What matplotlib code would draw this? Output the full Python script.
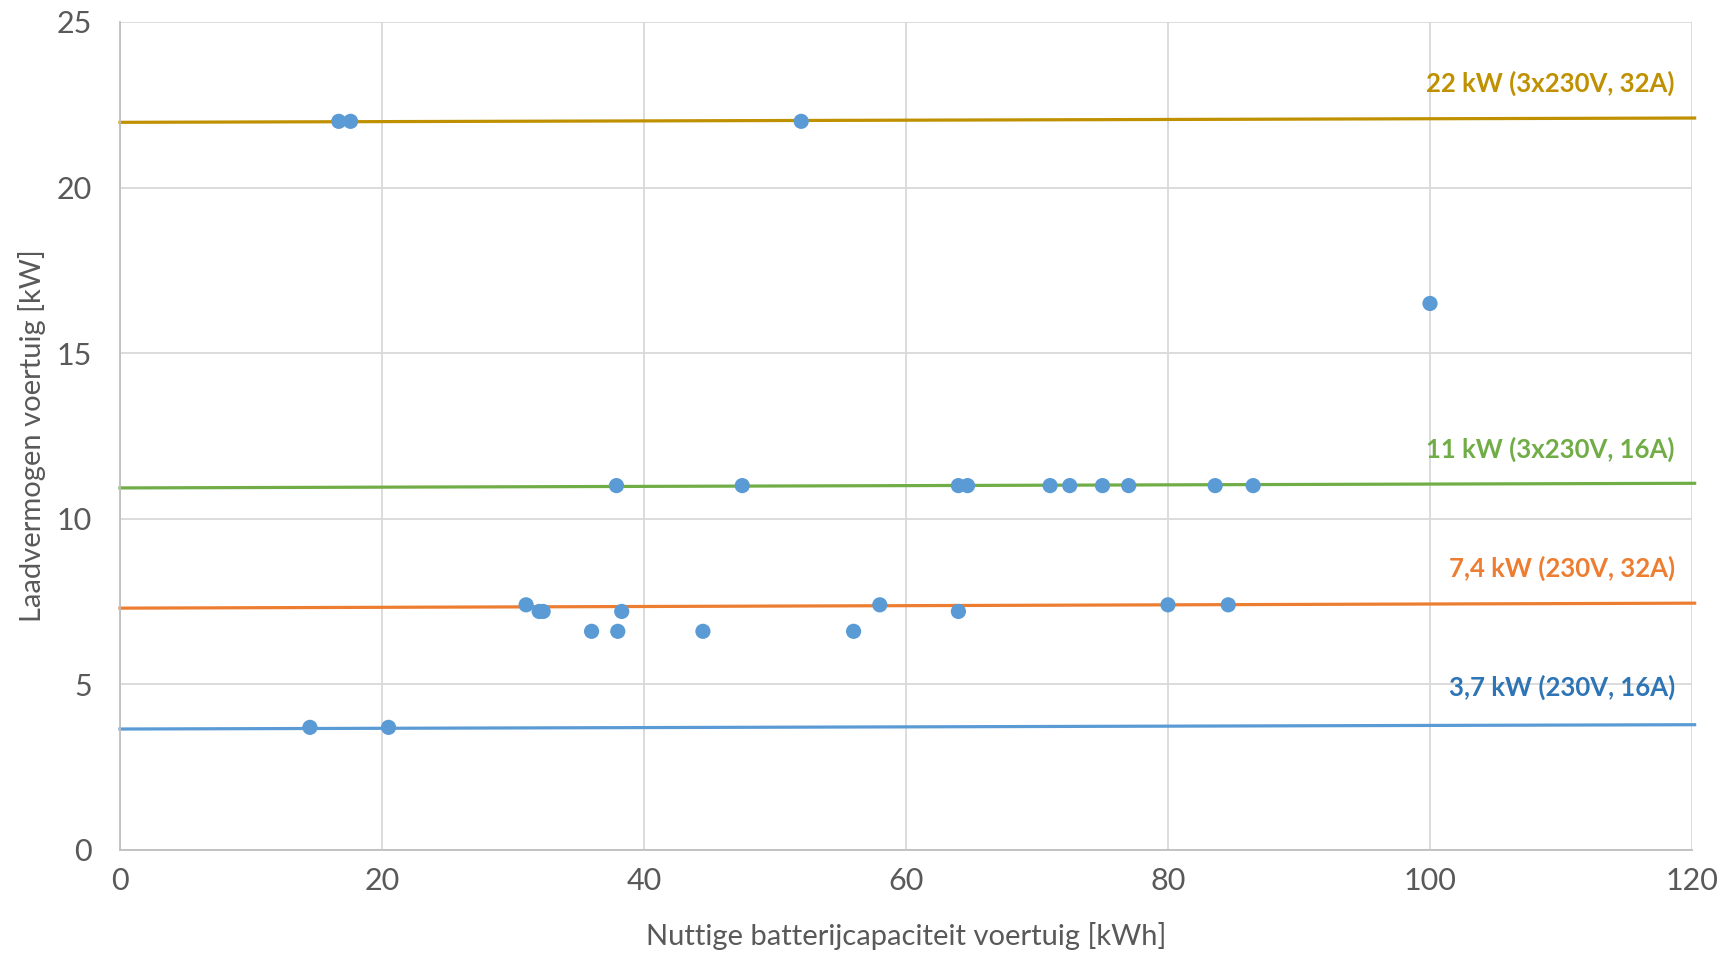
import numpy as np
import matplotlib.pyplot as plt

plt.rcParams['font.family'] = ['Lato', 'DejaVu Sans']

# measured vehicles: battery capacity [kWh] vs charging power [kW]
cap = [14.5, 20.5, 16.7, 17.6, 52.0, 100.0,
       37.9, 47.5, 64.0, 64.7, 71.0, 72.5, 75.0, 77.0, 83.6, 86.5,
       31.0, 58.0, 80.0, 84.6,
       32.0, 32.3, 38.3, 64.0,
       36.0, 38.0, 44.5, 56.0]
power = [3.7, 3.7, 22, 22, 22, 16.5,
         11, 11, 11, 11, 11, 11, 11, 11, 11, 11,
         7.4, 7.4, 7.4, 7.4,
         7.2, 7.2, 7.2, 7.2,
         6.6, 6.6, 6.6, 6.6]

# reference lines (start/end values at x=0 and x=120)
line_x = [0, 120.2]
lines = {
    '22 kW (3x230V, 32A)': [21.97, 22.1],
    '11 kW (3x230V, 16A)': [10.93, 11.07],
    '7,4 kW (230V, 32A)': [7.3, 7.45],
    '3,7 kW (230V, 16A)': [3.65, 3.78],
}
line_cols = ['#BF9000', '#70AD47', '#ED7D31', '#5B9BD5']
label_cols = ['#BF9000', '#70AD47', '#ED7D31', '#2E75B6']
label_y = [23.15, 12.1, 8.5, 4.9]

fig = plt.figure(figsize=(17.29, 9.56), dpi=100)
ax = fig.add_axes([0.0694, 0.111, 0.9092, 0.866])

for k, (name, yy) in enumerate(lines.items()):
    ax.plot(line_x, yy, color=line_cols[k], lw=2.3, zorder=2, clip_on=False)
    ax.text(118.7, label_y[k], name, color=label_cols[k], fontsize=18.5,
            fontweight='bold', ha='right', va='center')

ax.scatter(cap, power, s=120, color='#5B9BD5', zorder=3, edgecolors='none')

ax.set_xlim(0, 120)
ax.set_ylim(0, 25)
ax.set_xticks(np.arange(0, 121, 20))
ax.set_yticks(np.arange(0, 26, 5))
ax.grid(True, color='#D9D9D9', lw=1.3)
ax.set_axisbelow(True)
for s in ['top', 'right']:
    ax.spines[s].set_visible(False)
for s in ['left', 'bottom']:
    ax.spines[s].set_color('#BFBFBF')
    ax.spines[s].set_linewidth(1.3)
ax.tick_params(length=0, labelsize=22, colors='#595959')
ax.tick_params(axis='y', pad=20)
ax.tick_params(axis='x', pad=12)

ax.set_xlabel('Nuttige batterijcapaciteit voertuig [kWh]', fontsize=21, color='#595959', labelpad=20)
ax.set_ylabel('Laadvermogen voertuig [kW]', fontsize=21, color='#595959', labelpad=8)

fig.savefig('out.png', dpi=100)
